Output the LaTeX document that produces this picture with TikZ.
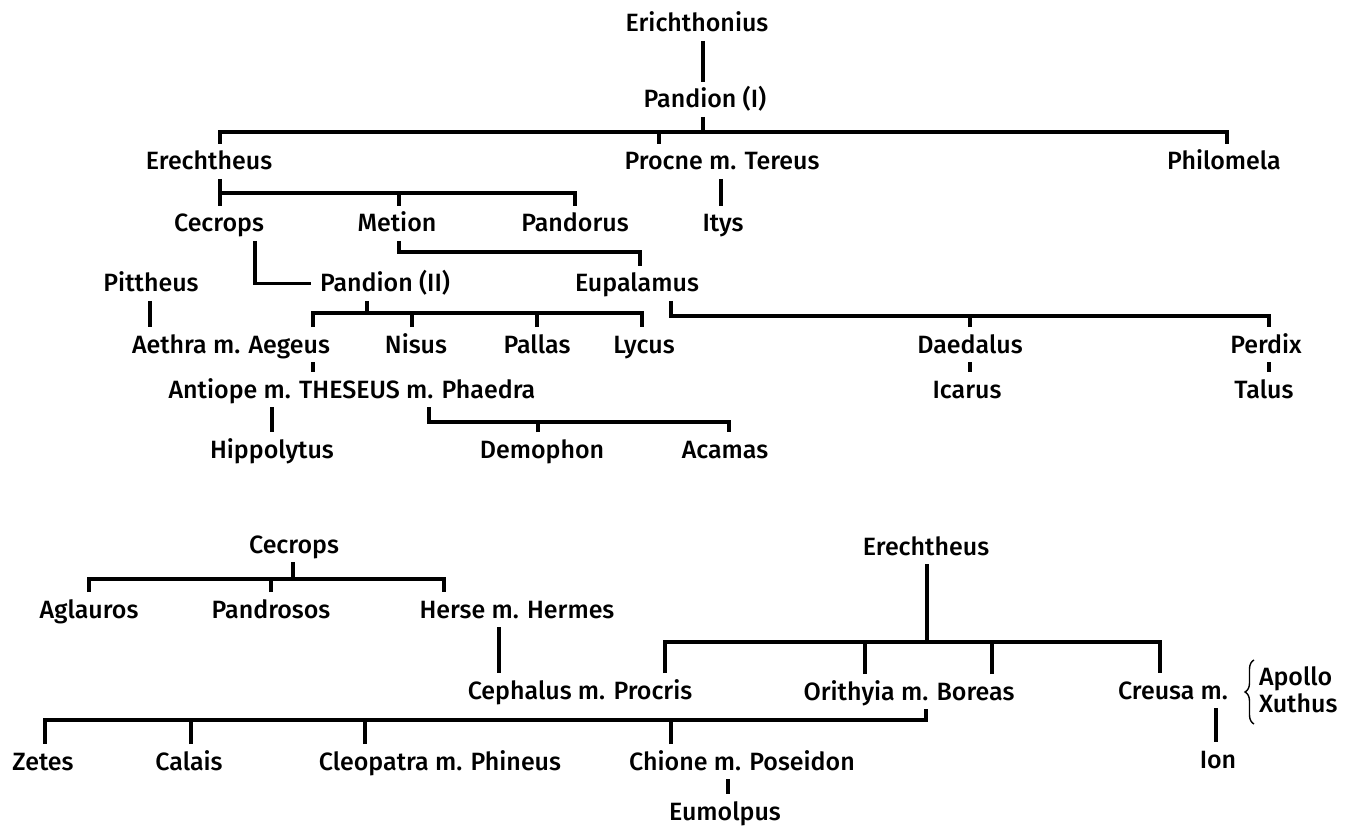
\documentclass[tikz,border=0pt]{standalone}
\usepackage{fontspec}
\setmainfont{Fira Sans Medium}
\usetikzlibrary{decorations.pathreplacing}
\begin{document}
\begin{tikzpicture}[x=1pt, y=-1pt,
  ln/.style={line width=3.6pt, line join=miter, line cap=butt},
  p/.style={anchor=base, inner sep=0pt, outer sep=9pt, text height=17pt,
    text depth=0pt, font=\fontsize{25}{29}\selectfont},
  pw/.style={p, anchor=base west, outer sep=0pt}]
\useasboundingbox (0,0) rectangle (1357,826);

% ---------- upper tree: the line of Erichthonius ----------
\node[p] (erich)    at (697,32)  {Erichthonius};
\node[p] (pandI)    at (705,108) {Pandion (I)};
\node[p] (erech)    at (209,170) {Erechtheus};
\node[p] (procne)   at (722,170) {Procne m. Tereus};
\node[p] (philo)    at (1224,170) {Philomela};
\node[p] (cecrops)  at (219,232) {Cecrops};
\node[p] (metion)   at (397,232) {Metion};
\node[p] (pandorus) at (575,232) {Pandorus};
\node[p] (itys)     at (723,232) {Itys};
\node[p] (pitth)    at (151,292) {Pittheus};
\node[p] (pandII)   at (385,292) {Pandion (II)};
\node[p] (eupal)    at (637,292) {Eupalamus};
\node[p] (aethra)   at (231,353) {Aethra m. Aegeus};
\node[p] (nisus)    at (416,353) {Nisus};
\node[p] (pallas)   at (537,353) {Pallas};
\node[p] (lycus)    at (644,353) {Lycus};
\node[p] (daed)     at (970,353) {Daedalus};
\node[p] (perdix)   at (1266,353) {Perdix};
\node[p] (theseus)  at (352,398) {Antiope m. THESEUS m. Phaedra};
\node[p] (icarus)   at (967,398) {Icarus};
\node[p] (talus)    at (1264,398) {Talus};
\node[p] (hipp)     at (272,458) {Hippolytus};
\node[p] (demo)     at (542,458) {Demophon};
\node[p] (acamas)   at (725,458) {Acamas};

\draw[ln] (erich.south -| 703,0) -- (pandI.north -| 703,0);
\draw[ln] (pandI.south -| 703,0) -- (703,132);
\draw[ln] (erech.north -| 220,0) -- (220,132) -- (1227,132) -- (philo.north -| 1227,0);
\draw[ln] (procne.north -| 659,0) -- (659,132);
\draw[ln] (procne.south -| 721,0) -- (itys.north -| 721,0);

\draw[ln] (erech.south -| 220,0) -- (cecrops.north -| 220,0);
\draw[ln] (220,193) -- (575,193) -- (pandorus.north -| 575,0);
\draw[ln] (metion.north -| 399,0) -- (399,193);
\draw[ln] (cecrops.south -| 255,0) |- (pandII.west);
\draw[ln] (metion.south -| 399,0) -- (399,252) -- (640,252) -- (eupal.north -| 640,0);

\draw[ln] (pandII.south -| 367,0) -- (367,313);
\draw[ln] (aethra.north -| 313,0) -- (313,313) -- (642,313) -- (lycus.north -| 642,0);
\draw[ln] (nisus.north -| 412,0) -- (412,313);
\draw[ln] (pallas.north -| 537,0) -- (537,313);
\draw[ln] (pitth.south -| 150,0) -- (aethra.north -| 150,0);

\draw[ln] (eupal.south -| 671,0) -- (671,316) -- (1269,316) -- (perdix.north -| 1269,0);
\draw[ln] (daed.north -| 970,0) -- (970,316);
\draw[ln] (daed.south -| 970,0) -- (icarus.north -| 970,0);
\draw[ln] (perdix.south -| 1269,0) -- (talus.north -| 1269,0);

\draw[ln] (aethra.south -| 313,0) -- (theseus.north -| 313,0);
\draw[ln] (theseus.south -| 272,0) -- (hipp.north -| 272,0);
\draw[ln] (theseus.south -| 429,0) -- (429,422) -- (729,422) -- (acamas.north -| 729,0);
\draw[ln] (demo.north -| 538,0) -- (538,422);

% ---------- lower tree: Cecrops and Erechtheus ----------
\node[p] (cecrops2)  at (294,553) {Cecrops};
\node[p] (erech2)    at (926,555) {Erechtheus};
\node[p] (aglauros)  at (89,618)  {Aglauros};
\node[p] (pandrosos) at (271,618) {Pandrosos};
\node[p] (herse)     at (517,618) {Herse m. Hermes};
\node[p] (cephalus)  at (580,699) {Cephalus m. Procris};
\node[p] (orithyia)  at (909,700) {Orithyia m. Boreas};
\node[p] (creusa)    at (1173,699) {Creusa m.};
\node[pw] (apollo)   at (1259,685) {Apollo};
\node[pw] (xuthus)   at (1259,712) {Xuthus};
\node[p] (zetes)     at (43,770)  {Zetes};
\node[p] (calais)    at (189,770) {Calais};
\node[p] (cleo)      at (440,770) {Cleopatra m. Phineus};
\node[p] (chione)    at (742,770) {Chione m. Poseidon};
\node[p] (ion)       at (1218,768) {Ion};
\node[p] (eumolpus)  at (725,820) {Eumolpus};

\draw[ln] (cecrops2.south -| 293,0) -- (293,579);
\draw[ln] (aglauros.north -| 89,0) -- (89,579) -- (444,579) -- (herse.north -| 444,0);
\draw[ln] (pandrosos.north -| 271,0) -- (271,579);
\draw[ln] (herse.south -| 499,0) -- (cephalus.north -| 499,0);

\draw[ln] (erech2.south -| 927,0) -- (927,642);
\draw[ln] (cephalus.north -| 665,0) -- (665,642) -- (1160,642) -- (creusa.north -| 1160,0);
\draw[ln] (orithyia.north -| 865,0) -- (865,642);
\draw[ln] (orithyia.north -| 992,0) -- (992,642);

\draw[ln] (orithyia.south -| 926,0) -- (926,720) -- (45,720) -- (zetes.north -| 45,0);
\draw[ln] (calais.north -| 191,0) -- (191,720);
\draw[ln] (cleo.north -| 365,0) -- (365,720);
\draw[ln] (chione.north -| 671,0) -- (671,720);
\draw[ln] (chione.south -| 728,0) -- (eumolpus.north -| 728,0);
\draw[ln] (creusa.south -| 1216,0) -- (ion.north -| 1216,0);

\coordinate (brlo) at (1254,724);
\coordinate (brhi) at (1254,660);
\draw[decorate, decoration={brace, amplitude=9pt}, line width=1.4pt] (brlo) -- (brhi);
\end{tikzpicture}
\end{document}
